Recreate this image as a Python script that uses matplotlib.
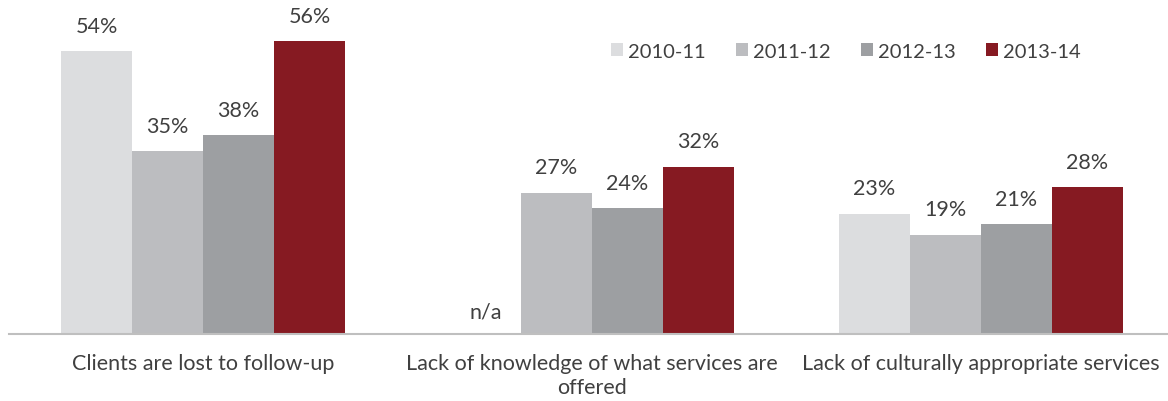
import numpy as np
import matplotlib.pyplot as plt

plt.rcParams['font.family'] = ['Lato', 'DejaVu Sans']

categories = ["Clients are lost to follow-up",
              "Lack of knowledge of what services are\noffered",
              "Lack of culturally appropriate services"]
years = ["2010-11", "2011-12", "2012-13", "2013-14"]
values = {
    "2010-11": [54, None, 23],
    "2011-12": [35, 27, 19],
    "2012-13": [38, 24, 21],
    "2013-14": [56, 32, 28],
}
colors = ["#dcdddf", "#bcbdc0", "#9d9fa2", "#861a22"]
text_color = "#404040"
fs = 15.5

fig = plt.figure(figsize=(11.68, 4.02), dpi=100)
ax = fig.add_axes([8.5/1168, 67/402, 1167/1168, 335/402])

x = np.arange(len(categories))
w = 0.1825
for i, yr in enumerate(years):
    off = (i - 1.5) * w
    for j, v in enumerate(values[yr]):
        if v is None:
            ax.annotate("n/a", (x[j] + off, 0), xytext=(0, 16), textcoords="offset points",
                        ha="center", va="center", fontsize=fs, color=text_color)
            continue
        ax.bar(x[j] + off, v, w, color=colors[i], label=yr if j == 0 else None)
        ax.annotate(f"{v}%", (x[j] + off, v), xytext=(0, 11), textcoords="offset points",
                    ha="center", va="bottom", fontsize=fs, color=text_color)

ax.set_xlim(-0.5, 2.5)
ax.set_ylim(0, 64)
ax.set_yticks([])
ax.set_xticks(x)
ax.set_xticklabels(categories, fontsize=fs, color=text_color, linespacing=1.25)
ax.tick_params(axis="x", length=0, pad=14)
for s in ["top", "right", "left"]:
    ax.spines[s].set_visible(False)
ax.spines["bottom"].set_color("#bfbfbf")
ax.spines["bottom"].set_linewidth(1.5)

leg = ax.legend(loc="center right", bbox_to_anchor=(1081/1168, 1 - 52/402), bbox_transform=fig.transFigure,
                ncol=4, frameon=False, fontsize=14.5, handlelength=0.6, handleheight=0.6,
                handletextpad=0.25, columnspacing=1.5, borderaxespad=0, borderpad=0)
for t in leg.get_texts():
    t.set_color(text_color)

plt.savefig("out.png", dpi=100)
